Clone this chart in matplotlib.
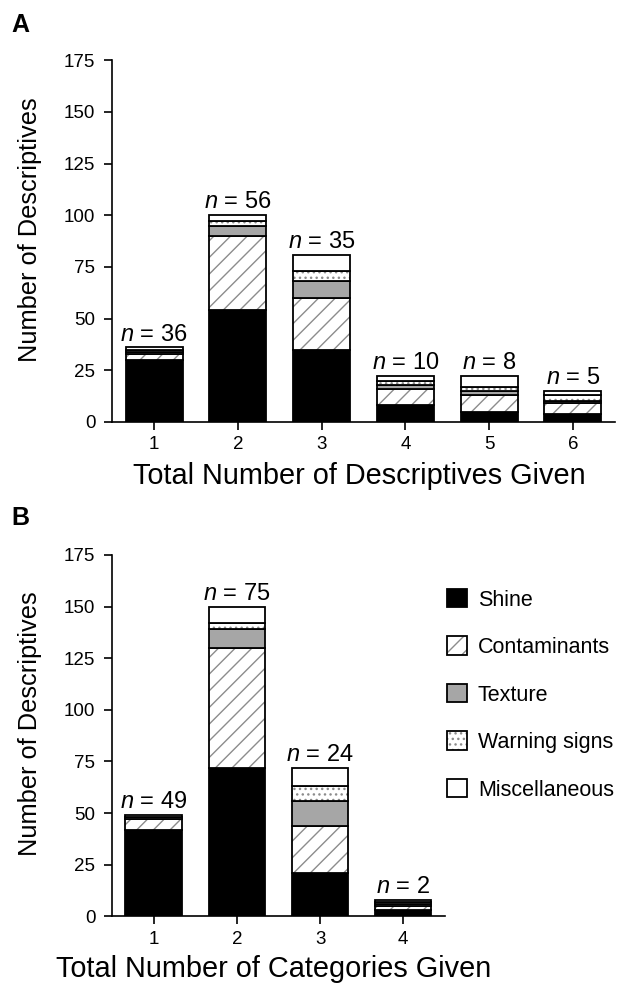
import matplotlib
matplotlib.use('Agg')
import matplotlib.pyplot as plt
import numpy as np
from matplotlib.patches import Patch
from matplotlib.legend_handler import HandlerTuple

plt.rcParams['font.family'] = ['Liberation Sans', 'DejaVu Sans']
plt.rcParams['mathtext.fontset'] = 'custom'
plt.rcParams['mathtext.it'] = 'Liberation Sans:italic'
plt.rcParams['mathtext.rm'] = 'Liberation Sans'

# Panel A data: total number of descriptives given
groups_a = [1, 2, 3, 4, 5, 6]
n_a = [36, 56, 35, 10, 8, 5]
shine_a = [30, 54, 35, 8, 5, 4]
contam_a = [3, 36, 25, 8, 8, 5]
texture_a = [1, 5, 8, 2, 2, 1]
warning_a = [1, 2, 5, 2, 2, 3]
misc_a = [1, 3, 8, 2, 5, 2]

# Panel B data: total number of categories given
groups_b = [1, 2, 3, 4]
n_b = [49, 75, 24, 2]
shine_b = [42, 72, 21, 3]
contam_b = [5, 58, 23, 2]
texture_b = [1, 9, 12, 1]
warning_b = [0, 3, 7, 1]
misc_b = [1, 8, 9, 1]

labels = ['Shine', 'Contaminants', 'Texture', 'Warning signs', 'Miscellaneous']
# (face colour, hatch, hatch colour)
styles = [('black', None, 'black'),
          ('white', '//', '#8c8c8c'),
          ('#a6a6a6', None, '#a6a6a6'),
          ('white', '...', '#8c8c8c'),
          ('white', None, 'white')]

WIDTH = 0.68
EDGE = 1.3


def stacked(ax, x, series, n):
    bottom = np.zeros(len(x))
    for vals, (fc, h, hc) in zip(series, styles):
        vals = np.array(vals, dtype=float)
        ax.bar(x, vals, WIDTH, bottom=bottom, color=fc, hatch=h,
               edgecolor=hc, linewidth=0)
        ax.bar(x, vals, WIDTH, bottom=bottom, fill=False,
               edgecolor='black', linewidth=EDGE)
        bottom += vals
    for xi, top, ni in zip(x, bottom, n):
        ax.annotate(r'$n$ = %d' % ni, (xi, top), xytext=(0, 5),
                    textcoords='offset points', ha='center', va='baseline',
                    fontsize=17)


def style_axes(ax, xmax, xlabel, xl_pos, yl_pos):
    ax.set_xlim(0.5, xmax + 0.5)
    ax.set_ylim(0, 175)
    ax.set_yticks(np.arange(0, 176, 25))
    ax.set_xticks(range(1, xmax + 1))
    ax.spines['top'].set_visible(False)
    ax.spines['right'].set_visible(False)
    for s in ['left', 'bottom']:
        ax.spines[s].set_linewidth(1.2)
    ax.tick_params(width=1.2, length=6, labelsize=13.5)
    ax.tick_params(axis='x', pad=4.5)
    ax.tick_params(axis='y', pad=6)
    ax.set_ylabel('Number of Descriptives', fontsize=18.3)
    ax.set_xlabel(xlabel, fontsize=20.8, va='top')
    ax.xaxis.set_label_coords(*xl_pos, transform=fig.transFigure)
    ax.yaxis.set_label_coords(*yl_pos, transform=fig.transFigure)


fig = plt.figure(figsize=(6.3, 9.88), dpi=100)
ax_a = fig.add_axes([0.178, 0.573, 0.798, 0.366])
ax_b = fig.add_axes([0.178, 0.0724, 0.528, 0.366])

stacked(ax_a, groups_a, [shine_a, contam_a, texture_a, warning_a, misc_a], n_a)
stacked(ax_b, groups_b, [shine_b, contam_b, texture_b, warning_b, misc_b], n_b)
style_axes(ax_a, 6, 'Total Number of Descriptives Given',
           (0.570, 0.532), (0.066, 0.768))
style_axes(ax_b, 4, 'Total Number of Categories Given',
           (0.434, 0.033), (0.066, 0.268))

fig.text(0.018, 0.975, 'A', fontsize=18, fontweight='bold', va='center')
fig.text(0.018, 0.476, 'B', fontsize=18, fontweight='bold', va='center')

handles = []
for fc, h, hc in styles:
    handles.append((Patch(facecolor=fc, hatch=h, edgecolor=hc, linewidth=0),
                    Patch(fill=False, edgecolor='black', linewidth=EDGE)))
fig.legend(handles, labels, loc='upper left', bbox_to_anchor=(0.709, 0.404),
           frameon=False, fontsize=15.5, handlelength=0.95, handleheight=0.95,
           handletextpad=0.5, labelspacing=1.2, borderpad=0, borderaxespad=0,
           handler_map={tuple: HandlerTuple(ndivide=1, pad=0)})

fig.savefig('out.png', dpi=100)
